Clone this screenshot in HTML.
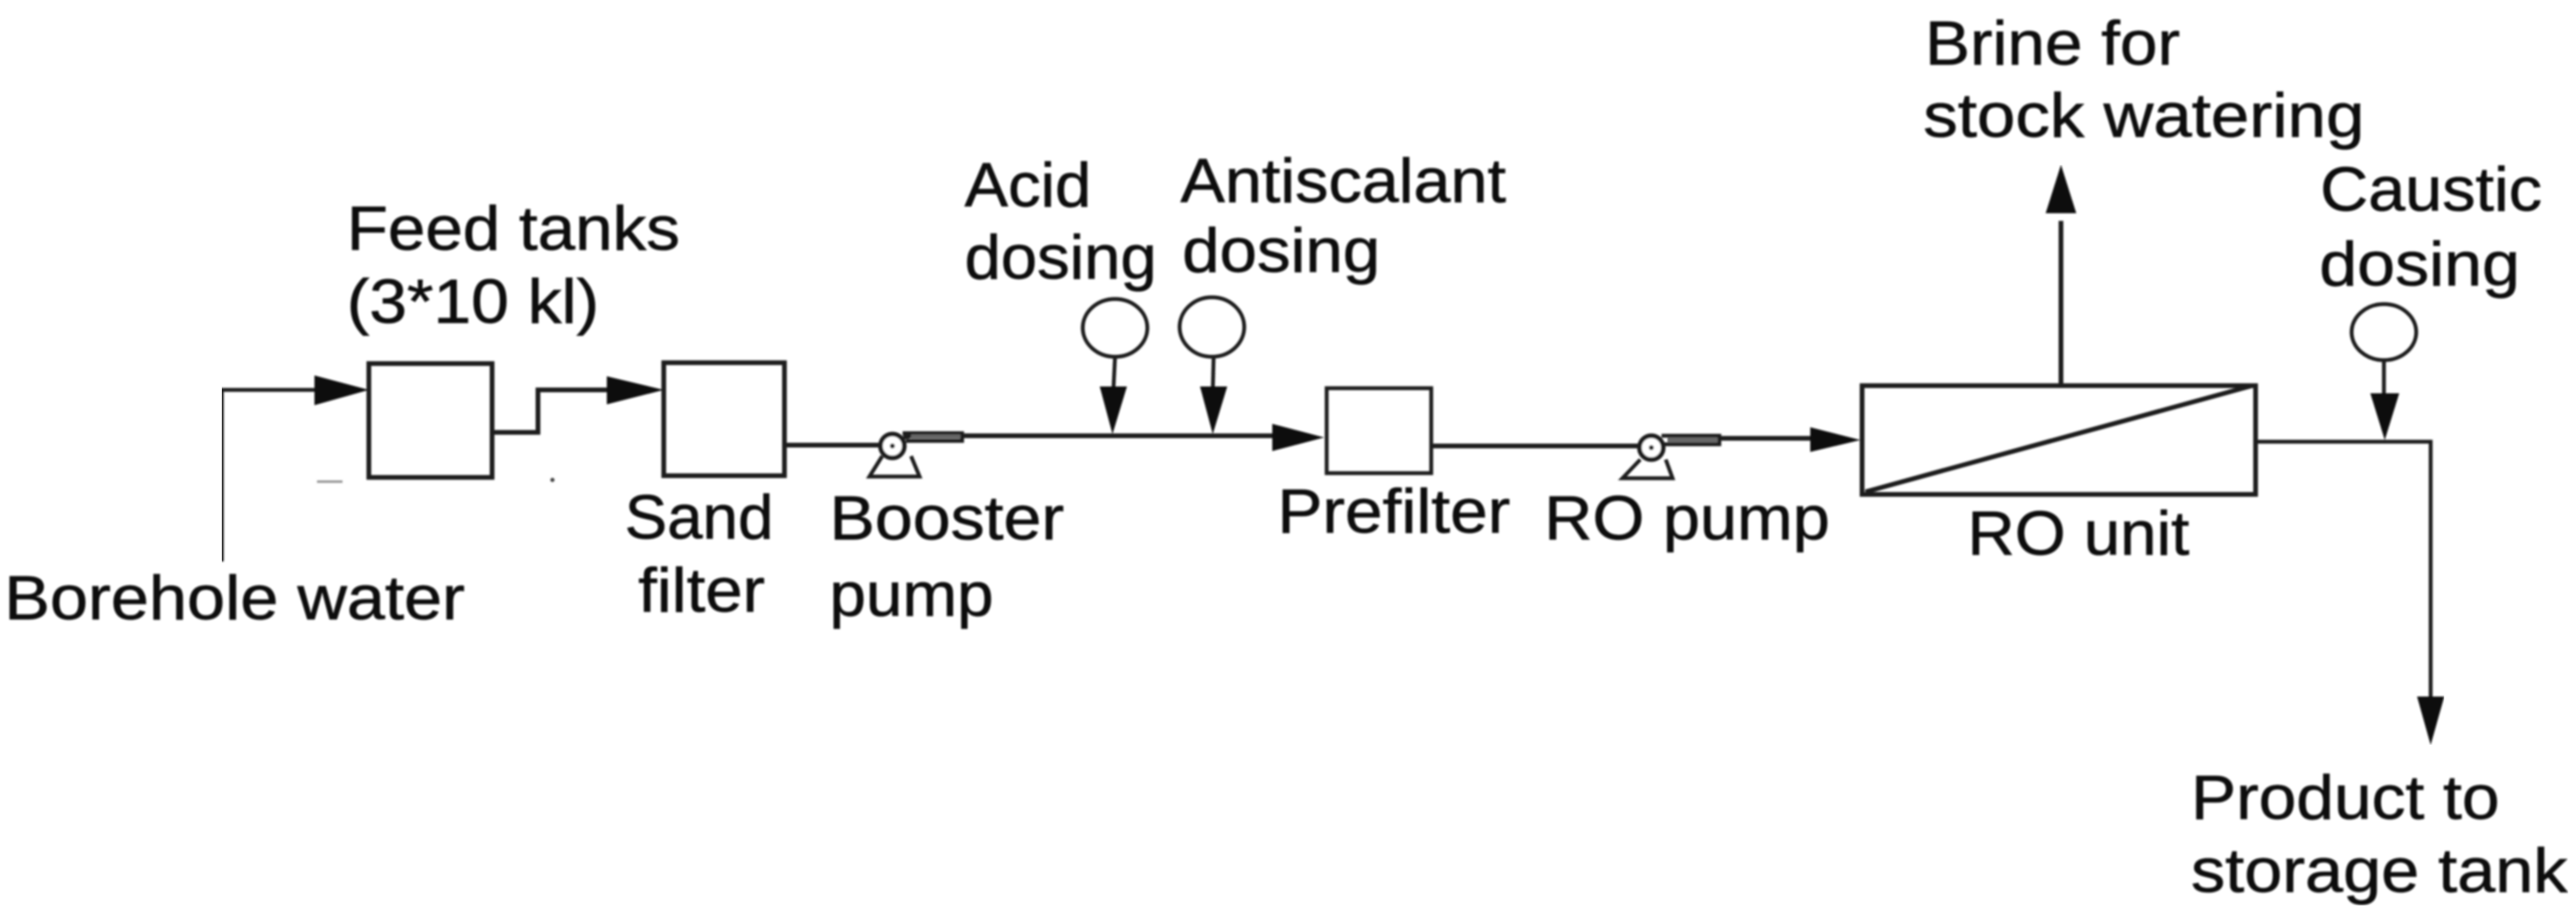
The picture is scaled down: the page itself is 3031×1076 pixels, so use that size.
<!DOCTYPE html>
<html><head><meta charset="utf-8"><style>
html,body{margin:0;padding:0;background:#fff;width:3031px;height:1076px;overflow:hidden}
svg{display:block}
text{font-family:"Liberation Sans",Arial,sans-serif;font-size:73px;fill:#0c0c0c;stroke:#0c0c0c;stroke-width:.7px}
.l{fill:none;stroke:#1c1c1c;stroke-width:5.5}
.t{stroke-width:4.5}
.a{fill:#0a0a0a;stroke:none}
</style></head><body>
<svg width="3031" height="1076" viewBox="0 0 3031 1076" xmlns="http://www.w3.org/2000/svg">
<defs><filter id="b" x="0" y="0" width="100%" height="100%"><feGaussianBlur stdDeviation="1"/></filter></defs>
<rect width="3031" height="1076" fill="#fff"/>
<g filter="url(#b)">
<!-- boxes -->
<rect class="l" x="434" y="428" width="145" height="134"/>
<rect class="l" x="781" y="427" width="142" height="133"/>
<rect class="l t" x="1561" y="457" width="123" height="100"/>
<rect class="l" x="2191" y="454" width="463" height="128"/>
<path class="l" d="M2195 579L2650 454"/>
<!-- lines -->
<path class="l t" d="M261 661V459H372"/>
<path class="a" d="M370 442L434 459L370 477Z"/>
<path class="l" d="M579 509H633V459H716"/>
<path class="a" d="M714 443L781 459L714 476Z"/>
<path class="l" d="M923 524H1037"/>
<path class="l" d="M1063 515L1072 513H1500"/>
<path class="a" d="M1497 499L1558 515L1497 531Z"/>
<path class="l" d="M1684 525H1930"/>
<path class="l" d="M2024 516H2132"/>
<path class="a" d="M2130 503L2189 518L2130 532Z"/>
<path class="l" d="M2425 453V260"/>
<path class="a" d="M2425 194L2443 251H2407Z"/>
<path class="l t" d="M2654 520H2860V825"/>
<path class="a" d="M2844 820H2876L2860 877Z"/>
<!-- dosing -->
<ellipse class="l t" cx="1312" cy="386" rx="38" ry="34"/>
<ellipse class="l t" cx="1426" cy="385" rx="38" ry="35"/>
<ellipse class="l t" cx="2805" cy="391" rx="38" ry="33"/>
<path class="l t" d="M1312 420L1310 460M1428 420L1427 460M2805 424V466"/>
<path class="a" d="M1294 455H1326L1309 511Z"/>
<path class="a" d="M1412 455H1444L1427 511Z"/>
<path class="a" d="M2789 463H2823L2806 518Z"/>
<!-- booster pump -->
<circle class="l" cx="1050" cy="525" r="14" style="fill:#fff"/>
<circle cx="1050" cy="525" r="3" fill="#222"/>
<path class="l t" d="M1038 537L1023 561H1082L1072 537"/>
<path class="l t" d="M1062 510H1132V519H1066"/>
<path d="M1072 514H1130" stroke="#666" stroke-width="5" fill="none"/>
<!-- RO pump -->
<circle class="l" cx="1943" cy="527" r="14" style="fill:#fff"/>
<circle cx="1943" cy="527" r="3" fill="#222"/>
<path class="l t" d="M1930 541L1909 563H1968L1960 541"/>
<path class="l t" d="M1955 513H2023V523H1958"/>
<path d="M1962 518H2021" stroke="#666" stroke-width="6" fill="none"/>
<!-- specks -->
<path d="M373 567H403" stroke="#999" stroke-width="3"/>
<circle cx="650" cy="565" r="2.5" fill="#444"/>
</g>
<!-- labels -->
<g filter="url(#b)">
<text x="5" y="729" textLength="542" lengthAdjust="spacingAndGlyphs">Borehole water</text>
<text x="408" y="294" textLength="392" lengthAdjust="spacingAndGlyphs">Feed tanks</text>
<text x="408" y="380" textLength="297" lengthAdjust="spacingAndGlyphs">(3*10 kl)</text>
<text x="735" y="634" textLength="175" lengthAdjust="spacingAndGlyphs">Sand</text>
<text x="751" y="720" textLength="149" lengthAdjust="spacingAndGlyphs">filter</text>
<text x="976" y="635" textLength="276" lengthAdjust="spacingAndGlyphs">Booster</text>
<text x="976" y="725" textLength="193" lengthAdjust="spacingAndGlyphs">pump</text>
<text x="1135" y="243" textLength="149" lengthAdjust="spacingAndGlyphs">Acid</text>
<text x="1135" y="328" textLength="226" lengthAdjust="spacingAndGlyphs">dosing</text>
<text x="1389" y="238" textLength="383" lengthAdjust="spacingAndGlyphs">Antiscalant</text>
<text x="1391" y="320" textLength="233" lengthAdjust="spacingAndGlyphs">dosing</text>
<text x="1503" y="627" textLength="274" lengthAdjust="spacingAndGlyphs">Prefilter</text>
<text x="1817" y="635" textLength="336" lengthAdjust="spacingAndGlyphs">RO pump</text>
<text x="2265" y="76" textLength="300" lengthAdjust="spacingAndGlyphs">Brine for</text>
<text x="2263" y="161" textLength="519" lengthAdjust="spacingAndGlyphs">stock watering</text>
<text x="2730" y="248" textLength="261" lengthAdjust="spacingAndGlyphs">Caustic</text>
<text x="2729" y="336" textLength="236" lengthAdjust="spacingAndGlyphs">dosing</text>
<text x="2315" y="653" textLength="261" lengthAdjust="spacingAndGlyphs">RO unit</text>
<text x="2578" y="964" textLength="363" lengthAdjust="spacingAndGlyphs">Product to</text>
<text x="2578" y="1050" textLength="443" lengthAdjust="spacingAndGlyphs">storage tank</text>
</g>
</svg>
</body></html>
